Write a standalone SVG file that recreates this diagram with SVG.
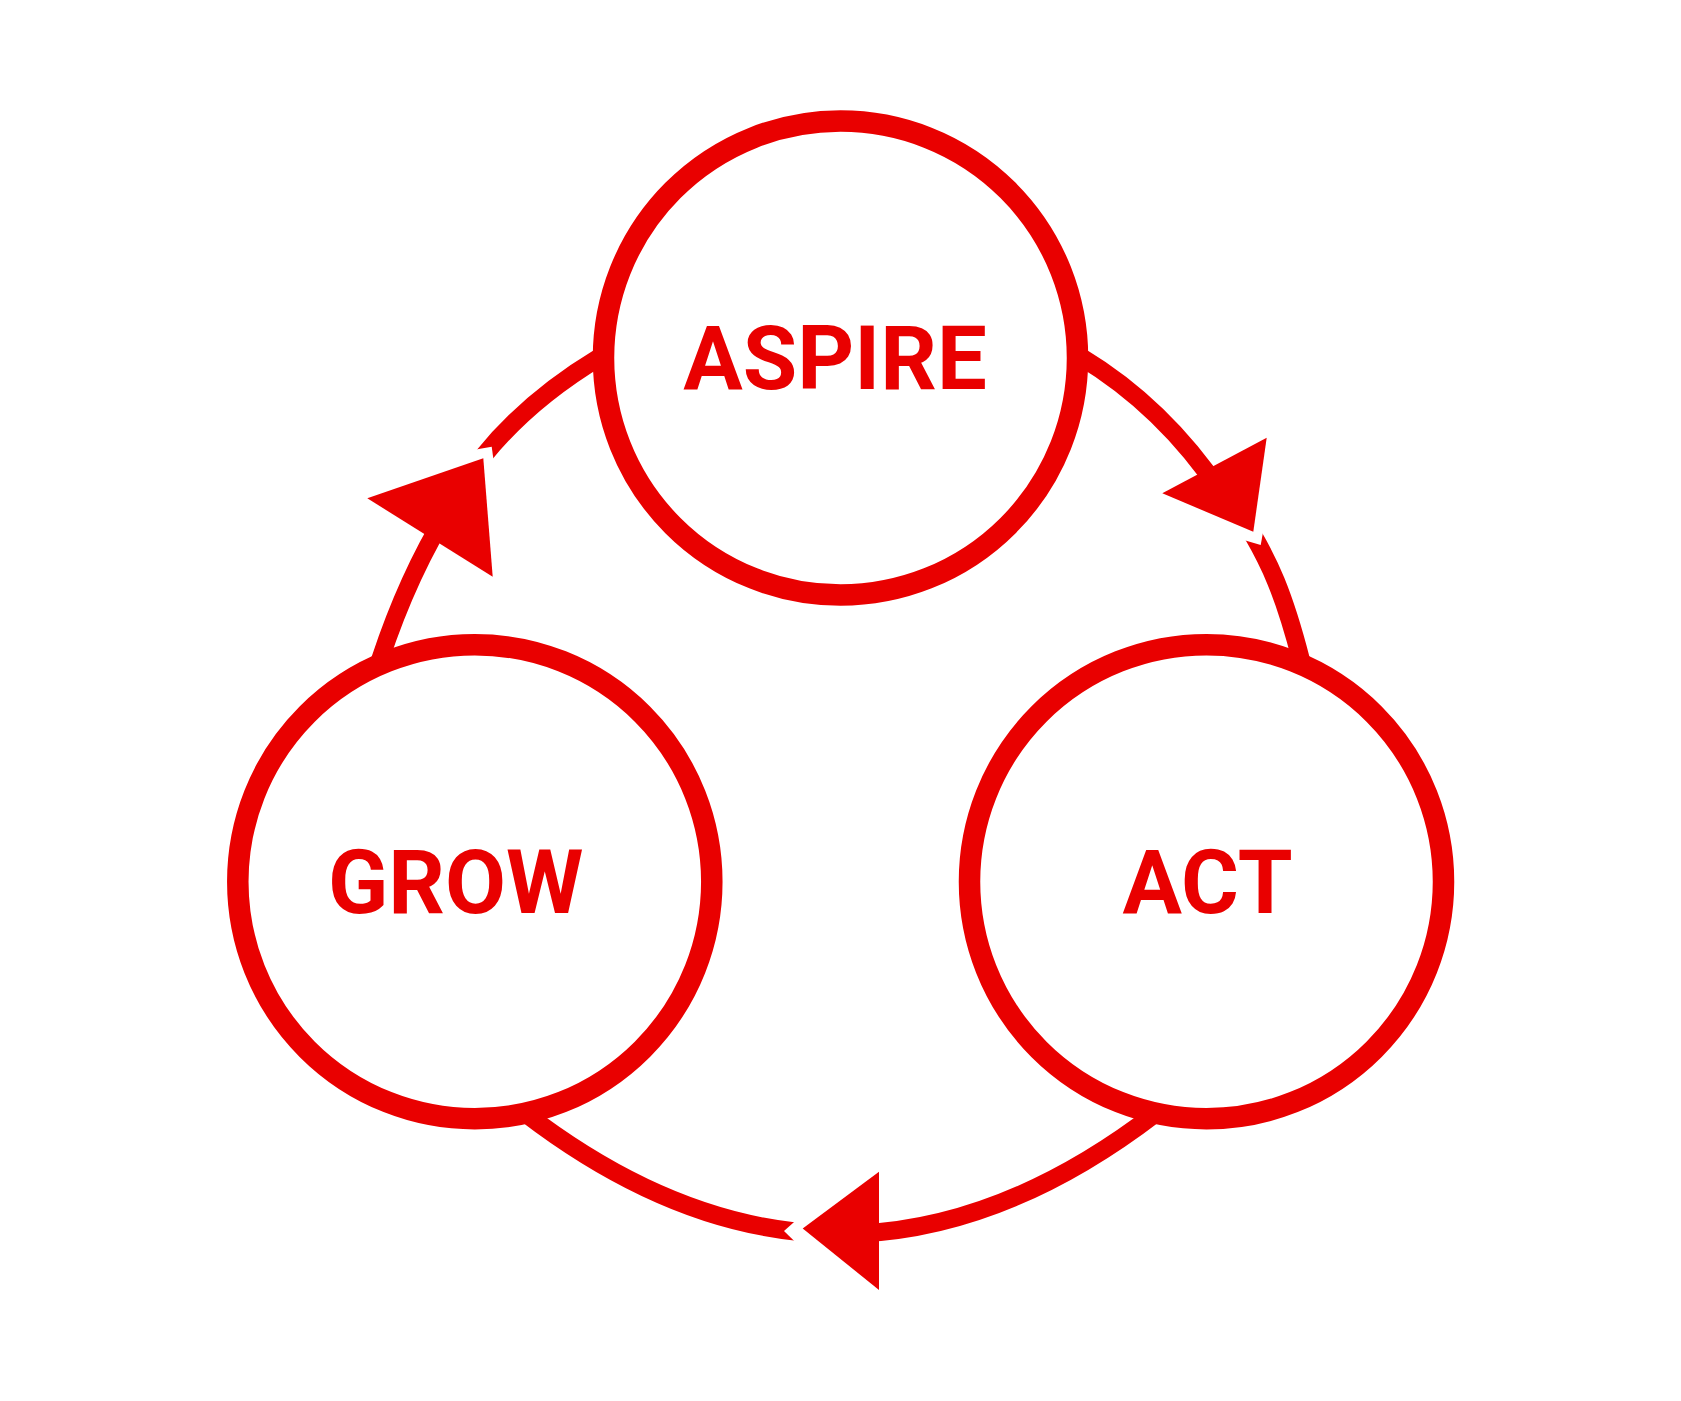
<svg xmlns="http://www.w3.org/2000/svg" width="1681" height="1401" viewBox="0 0 1681 1401">
<style>
.ring{fill:#ffffff;stroke:#E90000;stroke-width:21.5}
.lbl{font-family:Roboto,"Liberation Sans",sans-serif;font-weight:700;font-size:88.5px;fill:#E90000;text-anchor:middle}
.link{fill:none;stroke:#E90000;stroke-width:18;stroke-linecap:butt}
.head{fill:#E90000}
.cut{fill:#ffffff}
</style>
<rect x="0" y="0" width="1681" height="1401" fill="#ffffff"/>
<g id="connectors">
<g id="grow-to-aspire">
<path class="link" d="M380,660 Q409.6,570.5 453.1,502.8"/>
<path class="link" d="M483.1,456.3 Q528.7,399.9 600,357"/>
<polygon class="cut" points="491.7,446.7 458.7,452.4 495.2,472.2"/>
<polygon class="head" points="367.3,498.3 483.3,458.3 492.7,576.7"/>
</g>
<g id="aspire-to-act">
<path class="link" d="M1081,357 Q1163.3,406.5 1221.6,493.2"/>
<path class="link" d="M1252.9,534.8 C1268,561 1283,590 1301,660"/>
<polygon class="cut" points="1260.7,545 1228.4,535.5 1265.1,520.8"/>
<polygon class="head" points="1162.3,493.3 1266.7,437.7 1253.3,531.7"/>
</g>
<g id="act-to-grow">
<path class="link" d="M1156,1113 Q1008,1226.5 860,1233.5"/>
<path class="link" d="M797,1231.7 Q661,1217.3 525,1113"/>
<polygon class="cut" points="784,1231 807.3,1210.3 806,1252.4"/>
<polygon class="head" points="802.7,1228.5 879,1171.7 879,1290"/>
</g>
</g>
<g id="node-aspire">
<circle class="ring" cx="840.5" cy="358" r="237"/>
<text class="lbl" x="835" y="388.7">ASPIRE</text>
</g>
<g id="node-act">
<circle class="ring" cx="1206.5" cy="881.7" r="237"/>
<text class="lbl" x="1207.5" y="913.3">ACT</text>
</g>
<g id="node-grow">
<circle class="ring" cx="474.8" cy="881.7" r="237"/>
<text class="lbl" x="455.8" y="913.3">GROW</text>
</g>
</svg>
